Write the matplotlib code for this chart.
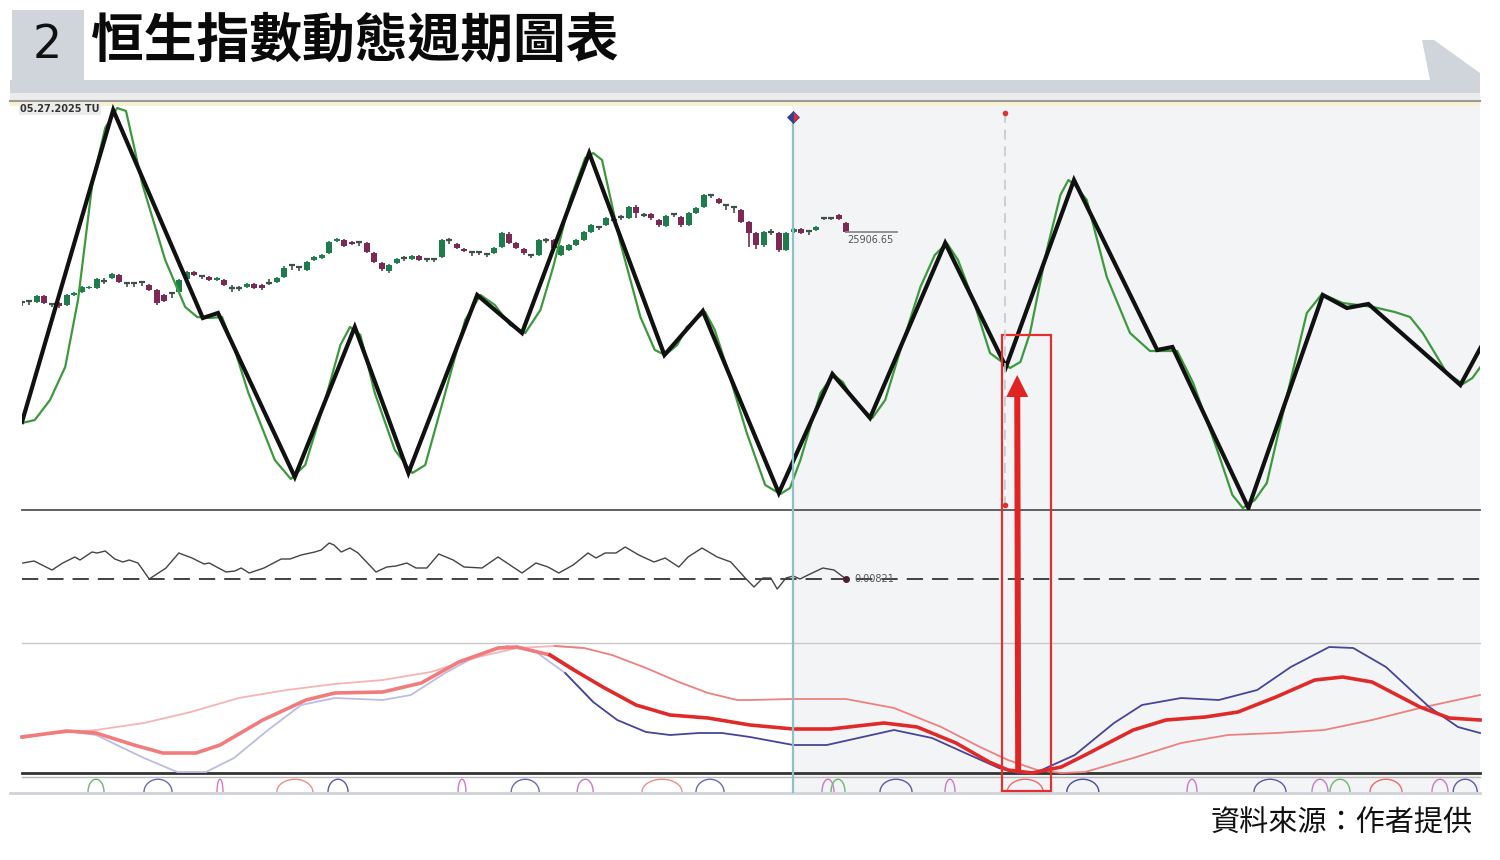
import numpy as np
import matplotlib.pyplot as plt
from matplotlib.patches import Rectangle, Polygon, FancyArrow, Arc

plt.rcParams['font.family'] = ['Noto Sans CJK TC', 'DejaVu Sans']

# ---------------- dane ----------------
title = '恒生指數動態週期圖表'
fig_no = '2'
source = '資料來源：作者提供'
date_lbl = '05.27.2025 TU'
last_lbl = '25906.65'
osc_lbl = '0.00821'

# cykl (czarny zigzag) - x w dniach sesyjnych, y w jednostkach cyklu
zz_x = [0.0, 11.4, 22.6, 24.5, 34.1, 41.6, 48.3, 56.9, 62.5, 70.9, 80.3, 85.1, 94.6,
        101.3, 106.0, 115.4, 123.0, 131.5, 141.9, 143.8, 153.3, 162.6, 165.6, 168.3,
        179.8, 182.3]
zz_y = [88, 400, 192, 197, 33, 183, 37, 215, 177, 357, 155, 199, 17,
        136, 92, 267, 143, 330, 160, 163, 2, 215, 202, 206, 125, 162]

# cykl wygladzony (zielony)
cyc_x = [0.0, 1.6, 3.5, 5.4, 7.0, 8.8, 10.4, 11.9, 13.0, 14.1, 15.0, 17.9, 20.4, 21.9,
         23.5, 25.0, 26.6, 28.3, 31.6, 33.6, 35.4, 37.9, 39.8, 41.0, 42.3, 44.1, 46.6,
         48.8, 50.4, 52.9, 55.4, 57.3, 59.1, 61.0, 62.9, 64.8, 66.4, 68.5, 70.4, 71.4,
         72.5, 74.8, 77.3, 79.1, 80.4, 81.9, 83.1, 85.4, 86.6, 88.1, 90.6, 92.9, 94.8,
         96.0, 97.3, 99.8, 101.4, 102.6, 103.9, 106.3, 107.9, 109.8, 112.3, 114.1, 115.6,
         117.0, 118.9, 121.0, 123.5, 124.8, 126.0, 128.1, 129.8, 130.8, 131.6, 133.1,
         135.6, 138.5, 141.0, 144.4, 146.4, 149.4, 151.3, 152.6, 154.1, 155.6, 158.5,
         160.6, 162.5, 165.1, 168.9, 171.6, 173.5, 175.1, 178.1, 180.1, 181.3, 182.3]
cyc_y = [87, 90, 110, 143, 210, 327, 382, 402, 399, 360, 327, 250, 203, 193,
         192, 193, 160, 117, 50, 31, 45, 110, 165, 183, 175, 117, 60,
         37, 45, 117, 190, 215, 205, 185, 177, 200, 243, 310, 352, 357,
         350, 267, 193, 160, 155, 165, 183, 198, 180, 143, 77, 25, 16,
         22, 50, 117, 135, 128, 110, 92, 110, 160, 223, 255, 267,
         250, 210, 157, 142, 148, 177, 260, 315, 330, 325, 310,
         233, 177, 159, 159, 127, 60, 15, 2, 10, 27, 127,
         197, 216, 207, 203, 198, 193, 177, 137, 126, 132, 143]

# swiece HSI
c_open = [23457, 23492, 23457, 23667, 23387, 23422, 23352, 23702, 23807, 23947,
          23947, 24192, 24297, 24402, 24122, 24122, 24157, 24052, 23877, 23702,
          23772, 23807, 24262, 24507, 24367, 24332, 24227, 24227, 23947, 23947,
          23982, 24087, 24052, 24122, 24157, 24332, 24752, 24682, 24577, 24927,
          24997, 25172, 25592, 25627, 25557, 25557, 25522, 25172, 24822, 24542,
          24822, 24997, 24962, 25067, 24962, 24962, 25032, 25627, 25487, 25312,
          25207, 25207, 25137, 25172, 25382, 25837, 25522, 25312, 25102, 25102,
          25627, 25627, 25102, 25277, 25452, 25627, 25907, 26082, 26152, 26327,
          26432, 26397, 26782, 26502, 26537, 26327, 26117, 26537, 26432, 26152,
          26572, 26782, 27202, 27062, 26852, 26782, 26677, 26257, 25872, 25452,
          25907, 25872, 25277, 25907, 26012, 25942, 25977, 26397, 26397, 26502,
          26222]
c_close = [23457, 23492, 23667, 23422, 23387, 23317, 23702, 23772, 23982, 23982,
           24262, 24192, 24437, 24157, 24122, 24122, 24157, 23877, 23422, 23492,
           23772, 24227, 24507, 24402, 24367, 24227, 24297, 24052, 23947, 23947,
           24087, 23947, 23947, 24122, 24297, 24647, 24752, 24682, 24857, 25032,
           25102, 25557, 25662, 25417, 25487, 25557, 25207, 24857, 24612, 24752,
           24962, 24997, 25067, 24927, 24962, 24962, 25627, 25627, 25347, 25242,
           25207, 25207, 25137, 25347, 25872, 25522, 25347, 25172, 25102, 25627,
           25627, 25347, 25417, 25452, 25627, 25907, 26152, 26082, 26397, 26327,
           26432, 26782, 26572, 26502, 26397, 26152, 26467, 26537, 26152, 26572,
           26747, 27202, 27202, 26922, 26852, 26782, 26257, 25872, 25452, 25907,
           25907, 25277, 25872, 26012, 25872, 25942, 26082, 26397, 26397, 26362,
           25906.65]
c_high = [23492, 23527, 23702, 23702, 23422, 23457, 23737, 23807, 24017, 24017,
          24297, 24297, 24472, 24437, 24157, 24157, 24192, 24087, 23912, 23737,
          23807, 24262, 24542, 24542, 24402, 24367, 24332, 24262, 24052, 24017,
          24122, 24122, 24087, 24262, 24332, 24717, 24787, 24717, 24892, 25067,
          25137, 25592, 25697, 25662, 25592, 25592, 25557, 25207, 24857, 24787,
          24997, 25067, 25102, 25102, 24997, 24997, 25662, 25697, 25522, 25347,
          25242, 25242, 25172, 25382, 25907, 25907, 25557, 25347, 25137, 25662,
          25697, 25662, 25452, 25487, 25662, 25942, 26187, 26117, 26432, 26397,
          26502, 26817, 26852, 26572, 26572, 26362, 26502, 26572, 26467, 26607,
          26782, 27237, 27237, 27097, 26887, 26817, 26712, 26292, 25907, 25942,
          26012, 25907, 25907, 26047, 26047, 25977, 26117, 26432, 26432, 26537,
          26257]
c_low = [23317, 23352, 23422, 23387, 23282, 23247, 23317, 23667, 23772, 23912,
         23912, 24087, 24262, 24122, 23982, 23982, 24017, 23842, 23352, 23457,
         23597, 23772, 24227, 24367, 24262, 24192, 24192, 24017, 23807, 23842,
         23947, 23912, 23877, 24052, 24122, 24297, 24577, 24542, 24542, 24892,
         24962, 25137, 25557, 25382, 25452, 25417, 25172, 24822, 24542, 24472,
         24787, 24892, 24927, 24892, 24857, 24857, 24997, 25487, 25312, 25207,
         25067, 25102, 25032, 25137, 25347, 25487, 25312, 25102, 24997, 25067,
         25522, 25312, 25067, 25242, 25417, 25592, 25872, 25977, 26117, 26222,
         26327, 26362, 26397, 26432, 26327, 26082, 26082, 26432, 26082, 26117,
         26537, 26747, 27097, 26887, 26677, 26572, 26222, 25382, 25312, 25382,
         25802, 25207, 25242, 25872, 25837, 25802, 25942, 26327, 26327, 26327,
         25872]

# oscylator
osc_x = [0.1, 1.5, 3.75, 5.1, 6.6, 7.25, 8.75, 9.4, 10.4, 11.6, 12.6, 13.4, 14.5, 15.9,
         18.0, 19.6, 21.25, 22.75, 23.4, 25.5, 26.6, 27.4, 28.4, 30.25, 32.4, 33.5, 34.9,
         36.6, 37.4, 38.4, 39.0, 39.9, 41.0, 42.0, 44.25, 45.6, 46.75, 48.1, 49.25, 50.6,
         52.1, 53.9, 55.25, 57.5, 59.5, 61.0, 62.5, 64.25, 65.75, 67.1, 68.9, 70.75, 71.75,
         72.9, 74.25, 75.4, 77.1, 79.0, 80.4, 82.1, 83.25, 85.0, 86.9, 88.6, 90.4, 91.5,
         92.6, 93.6, 94.4, 95.5, 96.4, 97.25, 98.25, 100.1, 101.5, 103.0]
osc_y = [0.016, 0.018, 0.009, 0.016, 0.022, 0.019, 0.027, 0.026, 0.028, 0.020, 0.017,
         0.019, 0.016, 0.000, 0.011, 0.026, 0.021, 0.015, 0.016, 0.007, 0.008, 0.011,
         0.006, 0.011, 0.020, 0.020, 0.024, 0.027, 0.029, 0.036, 0.034, 0.027, 0.031,
         0.026, 0.007, 0.012, 0.013, 0.016, 0.011, 0.011, 0.025, 0.019, 0.012, 0.011,
         0.022, 0.014, 0.006, 0.016, 0.012, 0.006, 0.014, 0.026, 0.021, 0.026, 0.026,
         0.032, 0.024, 0.017, 0.021, 0.012, 0.022, 0.031, 0.022, 0.017, 0.001, -0.008,
         0.001, 0.001, -0.010, 0.001, 0.003, 0.000, 0.004, 0.011, 0.009, 0.000]

# wskaznik (trzy linie)
slow_x = [0.0, 9.25, 15.25, 21.1, 27.1, 33.1, 39.1, 45.1, 51.1, 57.0, 61.9, 66.6, 70.25,
          73.75, 78.0, 82.1, 85.75, 89.4, 91.0, 96.4, 103.0, 109.0, 114.9, 119.75, 123.25,
          126.9, 129.9, 132.9, 138.9, 144.9, 150.75, 156.75, 162.75, 168.75, 174.75, 182.25]
slow_y = [37, 43, 50, 61, 75, 83, 89, 93, 101, 116, 125, 127, 125, 118, 105, 91, 80, 73,
          73, 74, 74, 65, 46, 26, 13, 3, 0, 1, 15, 30, 38, 40, 43, 53, 65, 78]
mid_x = [0.0, 5.6, 9.25, 14.0, 17.6, 21.75, 24.75, 30.1, 35.5, 39.1, 45.1, 49.9, 54.6,
         59.5, 61.9, 66.0, 69.0, 72.6, 76.75, 81.0, 85.75, 91.0, 96.4, 101.1, 107.75,
         111.9, 116.75, 120.9, 123.25, 126.25, 129.9, 132.9, 138.9, 143.0, 147.9, 152.0,
         156.75, 161.6, 165.1, 168.75, 174.75, 178.4, 182.25]
mid_y = [36, 42, 40, 28, 20, 20, 28, 53, 73, 80, 81, 90, 111, 125, 126, 118, 103, 86, 68,
         58, 55, 48, 44, 44, 50, 46, 30, 11, 3, 0, 6, 18, 43, 53, 56, 61, 76, 93, 96, 91,
         66, 55, 53]
fast_x = [0.0, 5.6, 9.25, 15.25, 19.4, 23.0, 26.5, 30.75, 34.9, 39.1, 45.1, 48.6, 52.9,
          57.0, 60.6, 64.25, 67.9, 71.4, 74.4, 78.0, 81.0, 84.6, 87.5, 91.0, 96.4, 100.6,
          109.0, 113.75, 117.9, 122.1, 124.5, 126.9, 131.6, 136.5, 140.0, 144.9, 149.6,
          154.4, 158.6, 163.4, 166.4, 170.5, 175.9, 179.5, 182.25]
fast_y = [35, 42, 38, 15, 1, 1, 15, 43, 68, 75, 73, 78, 100, 118, 127, 121, 100, 71, 53,
          41, 38, 40, 40, 36, 28, 28, 43, 35, 20, 5, 0, 1, 18, 50, 68, 75, 73, 83, 106,
          126, 125, 106, 66, 46, 40]

# pasek z malymi cyklami na dole
bump_x = [9.25, 17.0, 24.75, 34.1, 39.5, 55.0, 62.9, 70.4, 80.0, 86.0, 100.75, 102.0,
          109.25, 116.0, 125.4, 132.6, 146.25, 156.0, 162.25, 164.75, 170.5, 177.25, 180.4]
bump_w = [2.0, 3.5, 0.75, 4.5, 2.5, 1.0, 3.5, 2.0, 5.0, 3.5, 1.5, 1.75,
          4.0, 1.25, 4.5, 4.0, 1.25, 4.0, 2.0, 2.5, 4.0, 2.0, 3.0]
bump_c = ['#6cb86c', '#6a6ab8', '#d07ad0', '#f08c8c', '#5a5aa8', '#d07ad0', '#6a6ab8',
          '#c77ac7', '#f08c8c', '#6a6ab8', '#c77ac7', '#6cb86c', '#5a5aa8', '#c77ac7',
          '#ef6a6a', '#4a4aa0', '#c77ac7', '#5a5aa8', '#c77ac7', '#6cb86c', '#ef6a6a',
          '#c77ac7', '#5a5aa8']

cut_day = 96.4    # pionowa linia - koniec danych
low_day = 122.9   # zaznaczony dolek cyklu
split_day = 68    # od tego miejsca linie wskaznika sa ciemniejsze

# ---------------- rysowanie ----------------
W, H = 1500, 860
fig = plt.figure(figsize=(15, 8.6), dpi=100)


def rect(x0, y0, x1, y1):  # piksele -> wspolrzedne figury
    return [x0 / W, 1 - y1 / H, (x1 - x0) / W, (y1 - y0) / H]


def px_of(day):
    return 22 + 8 * day


def panel(r, z=2):
    a = fig.add_axes(rect(*r))
    a.set_axis_off()
    a.patch.set_visible(False)
    a.set_zorder(z)
    return a


bg = fig.add_axes([0, 0, 1, 1])
bg.set_xlim(0, W)
bg.set_ylim(H, 0)
bg.set_axis_off()
bg.set_zorder(0)

gray = '#cfd5db'
bg.add_patch(Rectangle((12, 10), 72, 75, color=gray, lw=0))
bg.add_patch(Polygon([(10, 80), (1430, 80), (1422, 40), (1434, 40), (1480, 73),
                      (1480, 93), (10, 93)], closed=True, color=gray, lw=0))
bg.add_patch(Rectangle((10, 93), 1470, 7, color='#ececec', lw=0))
bg.plot([10, 1480], [100.5, 100.5], color='#9a9a9a', lw=1.5)
bg.add_patch(Rectangle((10, 102), 1470, 4, color='#f6f2d2', lw=0))
bg.add_patch(Rectangle((793, 106), 687, 686, color='#f3f4f6', lw=0))

bg.text(47, 45, fig_no, fontsize=33, ha='center', va='center', color='#111',
        family=['Liberation Sans Narrow', 'DejaVu Sans'])
bg.text(91, 41, title, fontsize=38, fontweight='bold', ha='left', va='center', color='#0a0a0a')
bg.text(1473, 824, source, fontsize=21, ha='right', va='center', color='#111')
bg.text(20, 109, date_lbl, fontsize=7, fontweight='bold', ha='left', va='center', color='#333',
        family=['DejaVu Sans'], bbox=dict(facecolor='#ececec', edgecolor='none', pad=1))

# linie podzialu paneli
bg.plot([22, 1480], [510, 510], color='#555555', lw=1.3)
bg.plot([22, 1480], [643, 643], color='#c8c8c8', lw=1)
bg.plot([22, 1480], [773, 773], color='#333333', lw=2)
bg.plot([22, 1480], [776.5, 776.5], color='#bbbbbb', lw=1)
bg.plot([10, 1480], [793, 793], color='#cfd3d8', lw=2)

# swiece
ax_c = panel((22, 103, 1480, 510), z=1)
ax_c.set_xlim(0, 194.6)
ax_c.set_ylim(16177, 30422)
o = np.array(c_open, float)
c = np.array(c_close, float)
hi = np.array(c_high, float)
lo = np.array(c_low, float)
idx = np.arange(len(c))
cols = np.where(c > o, '#1f7d4d', np.where(c < o, '#7a2a55', '#3f4f4a'))
dj = c == o
ax_c.vlines(idx, lo, hi, colors=cols, lw=1.2)
ax_c.bar(idx[~dj], (c - o)[~dj], bottom=o[~dj], width=0.8, color=cols[~dj], lw=0)
ax_c.hlines(o[dj], idx[dj] - 0.4, idx[dj] + 0.4, colors='#3f4f4a', lw=1.6)
ax_c.plot([idx[-1], idx[-1] + 6.8], [c[-1], c[-1]], color='#8a8a8a', lw=1.3)
ax_c.annotate(last_lbl, xy=(idx[-1], c[-1]), xytext=(1, -2), textcoords='offset points',
              fontsize=7, color='#555', ha='left', va='top', family=['DejaVu Sans'])

# cykle
ax_m = panel((22, 103, 1480, 510))
ax_m.set_xlim(0, 182.25)
ax_m.set_ylim(0, 407)
ax_m.plot(cyc_x, cyc_y, color='#3c9a3c', lw=1.6)
ax_m.plot(zz_x, zz_y, color='#111111', lw=3, solid_joinstyle='miter')

# oscylator
ax_o = panel((22, 510, 1480, 643))
ax_o.set_xlim(0, 182.25)
ax_o.set_ylim(-0.064, 0.069)
ax_o.axhline(0, color='#333', lw=1.3, dashes=(9, 5))
ax_o.plot(osc_x, osc_y, color='#444444', lw=1)
ax_o.plot(osc_x[-1], osc_y[-1], 'o', ms=4, color='#4a1f30')
ax_o.annotate(osc_lbl, xy=(osc_x[-1], osc_y[-1]), xytext=(6, 0), textcoords='offset points',
              fontsize=7, color='#555', va='center', family=['DejaVu Sans'])

# wskaznik
ax_i = panel((22, 643, 1480, 773))
ax_i.set_xlim(0, 182.25)
ax_i.set_ylim(0, 130)


def two_tone(ax, x, y, c_old, c_new, lw):
    x = np.asarray(x)
    y = np.asarray(y)
    k = np.searchsorted(x, split_day)
    ax.plot(x[:k + 1], y[:k + 1], color=c_old, lw=lw, clip_on=False)
    ax.plot(x[k - 1:], y[k - 1:], color=c_new, lw=lw, clip_on=False)


two_tone(ax_i, slow_x, slow_y, '#f6b4b4', '#ee8080', 1.3)
two_tone(ax_i, fast_x, fast_y, '#bcbce6', '#45459a', 1.3)
two_tone(ax_i, mid_x, mid_y, '#f27c7c', '#e02a2a', 2.6)

# pasek cykli
ax_s = panel((22, 777, 1480, 792))
ax_s.set_xlim(0, 182.25)
ax_s.set_ylim(0, 1)
for bx, bw, bc in zip(bump_x, bump_w, bump_c):
    ax_s.add_patch(Arc((bx, 0), bw, 1.7, theta1=0, theta2=180, color=bc, lw=1))

# nakladka: linie pionowe, ramka i strzalka
ov = fig.add_axes([0, 0, 1, 1])
ov.set_xlim(0, W)
ov.set_ylim(H, 0)
ov.set_axis_off()
ov.patch.set_visible(False)
ov.set_zorder(5)

xc = px_of(cut_day)
ov.plot([xc, xc], [115, 792], color='#8cc2c4', lw=1.6)
ov.plot(xc, 117, marker='D', ms=6, fillstyle='left', markerfacecolor='#2a3f9a',
        markerfacecoloralt='#d83030', markeredgecolor='#2a3f9a', mew=0.5)
xl = px_of(low_day)
ov.plot([xl, xl], [113, 508], color='#c8c8c8', lw=1.2, dashes=(6, 4))
ov.plot([xl, xl], [113, 505], 'o', ms=3, color='#e03030')
ov.add_patch(Rectangle((xl - 3, 335), 49, 456, fill=False, edgecolor='#e23030', lw=1.6))
ov.add_patch(FancyArrow(xl + 13, 773, -1, -398, width=6, head_width=22, head_length=22,
                        length_includes_head=True, color='#e02424', lw=0))

fig.savefig('out.png', dpi=100)
